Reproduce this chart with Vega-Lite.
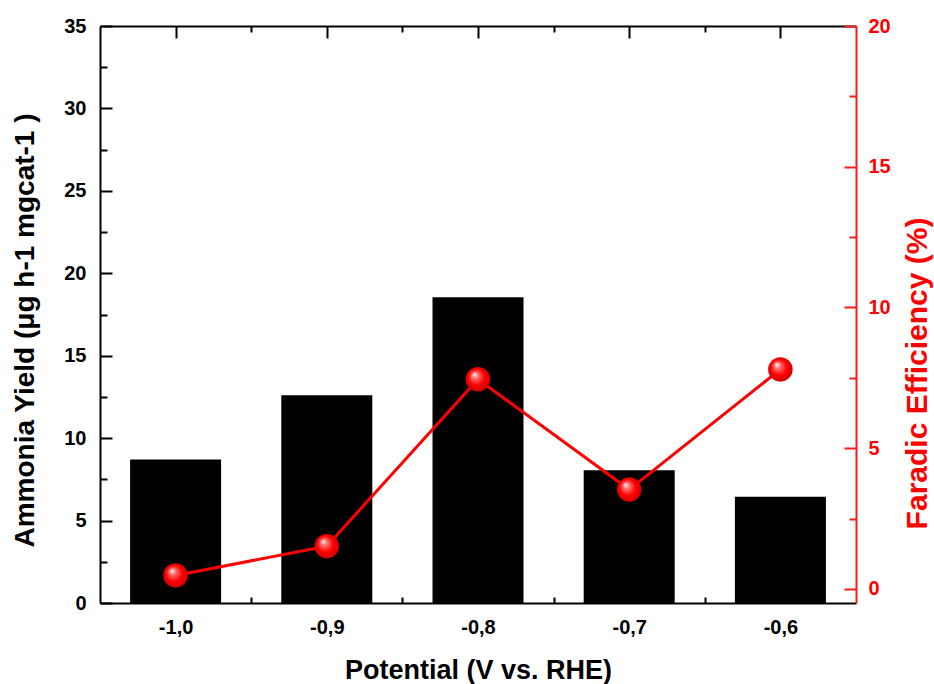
{
  "$schema": "https://vega.github.io/schema/vega-lite/v6.json",
  "width": 756,
  "height": 577,
  "autosize": "none",
  "padding": {"left": 100, "top": 26, "right": 78, "bottom": 81},
  "background": "white",
  "config": {
    "view": {"stroke": null},
    "font": "Liberation Sans",
    "axis": {
      "labelFont": "Liberation Sans",
      "titleFont": "Liberation Sans",
      "labelFontWeight": "bold",
      "titleFontWeight": "bold",
      "labelFontSize": 20,
      "titleFontSize": 27,
      "grid": false,
      "domainWidth": 2,
      "tickWidth": 2,
      "labelFlush": false,
      "labelOverlap": false,
      "labelBound": false
    }
  },
  "data": {
    "values": [
      {"potential": -1.0, "yield": 8.7, "fe": 0.48},
      {"potential": -0.9, "yield": 12.6, "fe": 1.52},
      {"potential": -0.8, "yield": 18.55, "fe": 7.45},
      {"potential": -0.7, "yield": 8.05, "fe": 3.53},
      {"potential": -0.6, "yield": 6.45, "fe": 7.8}
    ]
  },
  "layer": [
    {
      "mark": {"type": "bar", "width": 91, "color": "black"},
      "encoding": {
        "x": {
          "field": "potential",
          "type": "quantitative",
          "scale": {"domain": [-1.05, -0.55], "nice": false, "zero": false, "padding": 0},
          "axis": {
            "orient": "bottom",
            "title": "Potential (V vs. RHE)",
            "values": [-1.0, -0.95, -0.9, -0.85, -0.8, -0.75, -0.7, -0.65, -0.6],
            "format": ".1f",
            "labelExpr": "abs(datum.value*10 - round(datum.value*10)) > 0.1 ? '' : replace(replace(datum.label, '.', ','), '\u2212', '-')",
            "tickSize": {"condition": {"test": "abs(datum.value*10 - round(datum.value*10)) > 0.1", "value": -6}, "value": -12},
            "domainColor": "black",
            "tickColor": "black",
            "labelColor": "black",
            "titleColor": "black",
            "labelPadding": 26,
            "labelBaseline": "top",
            "titleX": 378,
            "titleY": 75,
            "titleBaseline": "alphabetic"
          }
        },
        "y": {
          "field": "yield",
          "type": "quantitative",
          "scale": {"domain": [0, 35], "nice": false},
          "axis": {
            "orient": "left",
            "title": "Ammonia Yield (μg h-1 mgcat-1 )",
            "titleFontSize": 28,
            "values": [0, 2.5, 5, 7.5, 10, 12.5, 15, 17.5, 20, 22.5, 25, 27.5, 30, 32.5, 35],
            "labelExpr": "datum.value % 5 == 0 ? datum.label : ''",
            "tickSize": {"condition": {"test": "datum.value % 5 != 0", "value": -7}, "value": -12},
            "domainColor": "black",
            "tickColor": "black",
            "labelColor": "black",
            "titleColor": "black",
            "labelPadding": 26,
            "titleAngle": -90,
            "titleX": -67,
            "titleY": 304,
            "titleBaseline": "alphabetic",
            "titleAlign": "center"
          }
        }
      }
    },
    {
      "encoding": {
        "x": {
          "field": "potential",
          "type": "quantitative",
          "axis": {
            "orient": "top",
            "title": null,
            "labels": false,
            "values": [-1.0, -0.95, -0.9, -0.85, -0.8, -0.75, -0.7, -0.65, -0.6],
            "tickSize": {"condition": {"test": "abs(datum.value*10 - round(datum.value*10)) > 0.1", "value": -6}, "value": -12},
            "domainColor": "black",
            "tickColor": "black"
          }
        },
        "y": {
          "field": "fe",
          "type": "quantitative",
          "scale": {"domain": [-0.5, 20], "nice": false, "zero": false},
          "axis": {
            "orient": "right",
            "title": "Faradic Efficiency (%)",
            "titleFontSize": 30,
            "values": [0, 2.5, 5, 7.5, 10, 12.5, 15, 17.5, 20],
            "labelExpr": "datum.value % 5 == 0 ? datum.label : ''",
            "tickSize": {"condition": {"test": "datum.value % 5 != 0", "value": -7}, "value": -12},
            "domainColor": "#ff1a1a",
            "tickColor": "#ff1a1a",
            "labelColor": "#ff0000",
            "titleColor": "#ff0000",
            "labelPadding": 24,
            "titleAngle": -90,
            "titleX": 70,
            "titleY": 347,
            "titleBaseline": "alphabetic",
            "titleAlign": "center"
          }
        }
      },
      "layer": [
        {"mark": {"type": "line", "color": "#ff0000", "strokeWidth": 3}},
        {
          "mark": {
            "type": "point",
            "shape": "circle",
            "size": 600,
            "filled": true,
            "opacity": 1,
            "strokeWidth": 0,
            "fill": {
              "gradient": "radial",
              "x1": 0.35, "y1": 0.3, "r1": 0,
              "x2": 0.5, "y2": 0.5, "r2": 0.55,
              "stops": [
                {"offset": 0, "color": "#ffffff"},
                {"offset": 0.25, "color": "#ff6a6a"},
                {"offset": 0.6, "color": "#ff0000"},
                {"offset": 1, "color": "#c80000"}
              ]
            }
          }
        }
      ]
    }
  ],
  "resolve": {"scale": {"y": "independent"}, "axis": {"x": "independent"}}
}
